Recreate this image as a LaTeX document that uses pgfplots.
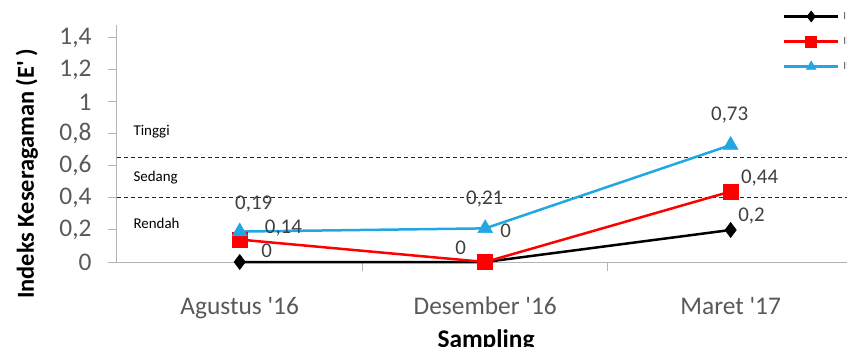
\documentclass[border=0pt]{standalone}
\usepackage{fontspec}
\setmainfont{Carlito}
\usepackage{pgfplots}
\pgfplotsset{compat=1.18}

\definecolor{axgray}{HTML}{B3B3B3}
\definecolor{tickgray}{HTML}{595959}
\definecolor{lblgray}{HTML}{404040}
\definecolor{serred}{HTML}{FF0000}
\definecolor{serblue}{HTML}{22A7E2}

\begin{document}
\begin{tikzpicture}
\begin{axis}[
  name=ax,
  scale only axis, width=730bp, height=237bp,
  xmin=-0.5, xmax=2.474, ymin=0, ymax=1.48,
  clip=false,
  axis x line*=bottom, axis y line*=left,
  axis line style={axgray, line width=1bp},
  xtick={0,1,2},
  xticklabels={Agustus \textquotesingle16, Desember \textquotesingle16, Maret \textquotesingle17},
  major x tick style={draw=none},
  extra x ticks={0.5,1.5}, extra x tick labels={},
  extra x tick style={tick align=outside, major tick length=9bp, major x tick style={draw=axgray, line width=1bp}},
  ytick={0,0.2,0.4,0.6,0.8,1,1.2,1.4},
  ytick style={draw=axgray, line width=1bp},
  tick align=outside, major tick length=9bp,
  /pgf/number format/.cd, use comma, fixed, precision=1, assume math mode=true,
  /pgfplots/.cd,
  xticklabel style={font=\fontsize{25.5}{30}\selectfont, text=tickgray, anchor=base, yshift=-43bp},
  yticklabel style={font=\fontsize{25.5}{30}\selectfont, text=tickgray, xshift=-13bp},
  every axis y label/.style={at={(axis description cs:-0.1233,0.371)}, rotate=90, anchor=center,
    font=\fontsize{24.5}{29}\selectfont\bfseries},
  every axis x label/.style={at={(axis description cs:0.5055,-0.362)}, anchor=base,
    font=\fontsize{25.5}{30}\selectfont\bfseries},
  ylabel={Indeks Keseragaman (E\textquotesingle\,)},
  xlabel={Sampling},
  legend image code/.code={\draw[mark repeat=2,mark phase=2,#1,mark size=5.5bp] plot coordinates {(0bp,0bp) (27bp,0bp) (54bp,0bp)};},
  legend style={at={(axis description cs:0.912,1.063)}, anchor=north west, draw=none, fill=none,
    font=\fontsize{11}{13}\selectfont, text=tickgray, inner sep=0pt, row sep=12.5bp,
    /tikz/every odd column/.append style={column sep=2bp}},
  legend cell align=left,
]

% class boundaries of the evenness index
\addplot[forget plot, black!85, line width=1bp, dash pattern=on 4bp off 3bp] coordinates {(-0.5,0.65) (2.474,0.65)};
\addplot[forget plot, black!85, line width=1bp, dash pattern=on 4bp off 3bp] coordinates {(-0.5,0.405) (2.474,0.405)};

\addplot[black, line width=2.5bp, mark=diamond*, mark size=7.5bp, mark options={solid, line width=0.6bp}]
  coordinates {(0,0) (1,0) (2,0.2)};
\addplot[serred, line width=2.5bp, mark=square*, mark size=7.5bp, mark options={solid, line width=0.6bp}]
  coordinates {(0,0.14) (1,0) (2,0.44)};
\addplot[serblue, line width=2.5bp, mark=triangle*, mark size=8.5bp, mark options={solid, line width=0.6bp}]
  coordinates {(0,0.19) (1,0.21) (2,0.73)};
\legend{I, II, III}

% class names
\node[anchor=west, font=\fontsize{15}{18}\selectfont] at (axis cs:-0.447,0.812) {Tinggi};
\node[anchor=west, font=\fontsize{15}{18}\selectfont] at (axis cs:-0.447,0.525) {Sedang};
\node[anchor=west, font=\fontsize{15}{18}\selectfont] at (axis cs:-0.447,0.244) {Rendah};

% value labels
\begin{scope}[every node/.style={font=\fontsize{21}{25}\selectfont, text=lblgray}]
\node at (axis cs:0.057,0.3625) {0,19};
\node at (axis cs:0.178,0.209) {0,14};
\node at (axis cs:0.11,0.069) {0};
\node at (axis cs:0.998,0.394) {0,21};
\node at (axis cs:0.90,0.09) {0};
\node at (axis cs:1.083,0.194) {0};
\node at (axis cs:1.996,0.92) {0,73};
\node at (axis cs:2.118,0.522) {0,44};
\node at (axis cs:2.085,0.284) {0,2};
\end{scope}
\end{axis}
\pgfresetboundingbox
\path[use as bounding box] ([shift={(-117bp,-85bp)}]ax.south west) rectangle ([shift={(0bp,25bp)}]ax.north east);
\end{tikzpicture}
\end{document}
